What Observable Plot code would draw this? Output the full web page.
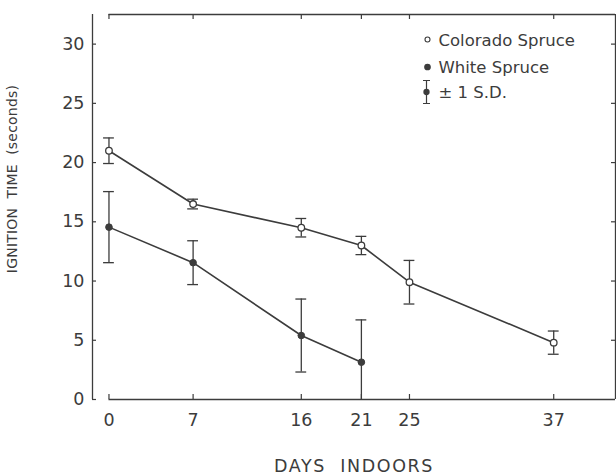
<!DOCTYPE html>
<html>
<head>
<meta charset="utf-8">
<script src="https://cdn.jsdelivr.net/npm/d3@7"></script>
<script src="https://cdn.jsdelivr.net/npm/@observablehq/plot@0.6"></script>
<style>
  html, body { margin: 0; padding: 0; background: #fff; }
  #chart { width: 616px; height: 475px; }
</style>
</head>
<body>
<div id="chart"></div>
<script>
// ---- data ----
const days = [0, 7, 16, 21, 25, 37];
const coloradoMean = [21.0, 16.5, 14.5, 13.0, 9.9, 4.8];
const coloradoSD   = [1.08, 0.41, 0.78, 0.77, 1.84, 0.98];
const whiteDays = [0, 7, 16, 21];
const whiteMean = [14.55, 11.55, 5.4, 3.15];
const whiteSD   = [3.0, 1.85, 3.08, 3.57];
const yTicks = [0, 5, 10, 15, 20, 25, 30];
const xTicks = days;
const legendLabels = ["Colorado Spruce", "White Spruce", "\u00B1 1 S.D."];
const xTitle = "DAYS  INDOORS";
const yTitle = "IGNITION  TIME  (seconds)";

// ---- tables built from the arrays ----
const colorado = days.map((d, i) => ({day: d, mean: coloradoMean[i], lo: coloradoMean[i] - coloradoSD[i], hi: coloradoMean[i] + coloradoSD[i]}));
const white = whiteDays.map((d, i) => ({day: d, mean: whiteMean[i], lo: whiteMean[i] - whiteSD[i], hi: whiteMean[i] + whiteSD[i]}));

const W = 616, H = 475;
const mL = 92, mR = 1, mT = 14, mB = 76;
const frameW = W - mL - mR, frameH = H - mT - mB;
const xDomain = [-1.37, 42.14];
const yDomain = [0, 32.5];
const ink = "#3c3c3c";
const font = "'DejaVu Sans', sans-serif";
const capHalf = 0.45; // cap half-width in days

const errSymbol = {
  draw(ctx) {
    ctx.moveTo(0, -11.5); ctx.lineTo(0, 11.5);
    ctx.moveTo(-3.5, -11.5); ctx.lineTo(3.5, -11.5);
    ctx.moveTo(-3.5, 11.5); ctx.lineTo(3.5, 11.5);
  }
};

function errorBars(data) {
  return [
    Plot.ruleX(data, {x: "day", y1: "lo", y2: "hi", stroke: ink, strokeWidth: 1.3, clip: true}),
    Plot.ruleY(data, {y: "hi", x1: d => d.day - capHalf, x2: d => d.day + capHalf, stroke: ink, strokeWidth: 1.3, clip: true}),
    Plot.ruleY(data, {y: "lo", x1: d => d.day - capHalf, x2: d => d.day + capHalf, stroke: ink, strokeWidth: 1.3, clip: true})
  ];
}

const legendText = (i, dy) => Plot.text([legendLabels[i]], {frameAnchor: "top-left", dx: 346, dy, textAnchor: "start", lineAnchor: "middle", fontSize: 16.5, fill: ink});

const chart = Plot.plot({
  width: W, height: H,
  marginLeft: mL, marginRight: mR, marginTop: mT, marginBottom: mB,
  style: {fontFamily: font, fontSize: "17.5px", color: ink, background: "#fff"},
  x: {domain: xDomain},
  y: {domain: yDomain},
  marks: [
    // frame pieces
    Plot.ruleX([xDomain[0]], {stroke: ink, strokeWidth: 1.3}),
    Plot.ruleX([xDomain[1]], {stroke: ink, strokeWidth: 1.3}),
    Plot.ruleY([yDomain[0]], {x1: days[0], x2: xDomain[1], stroke: ink, strokeWidth: 1.3}),
    Plot.ruleY([yDomain[1]], {x1: days[0], x2: xDomain[1], stroke: ink, strokeWidth: 1.3}),
    // inward ticks
    Plot.tickY(yTicks, {y: d => d, insetRight: frameW - 4, stroke: ink, strokeWidth: 1.2}),
    Plot.tickY(yTicks.filter(t => t > 0), {y: d => d, insetLeft: frameW - 4, stroke: ink, strokeWidth: 1.2}),
    Plot.tickX(xTicks, {x: d => d, insetTop: frameH - 5, stroke: ink, strokeWidth: 1.2}),
    Plot.tickX(xTicks, {x: d => d, insetBottom: frameH - 5, stroke: ink, strokeWidth: 1.2}),
    // axes labels
    Plot.axisY({ticks: yTicks, tickSize: 0, tickPadding: 8, label: null, fontSize: 17.5}),
    Plot.axisX({ticks: xTicks, tickSize: 0, tickPadding: 14, label: null, fontSize: 17.5}),
    Plot.text([xTitle], {frameAnchor: "bottom", dy: 67, textAnchor: "middle", fontSize: 17.5, fill: ink, lineAnchor: "middle"}),
    Plot.text([yTitle], {frameAnchor: "left", dx: -80, dy: -28, rotate: -90, textAnchor: "middle", fontSize: 14, fill: ink, lineAnchor: "middle"}),
    // series
    Plot.line(colorado, {x: "day", y: "mean", stroke: ink, strokeWidth: 1.6}),
    Plot.line(white, {x: "day", y: "mean", stroke: ink, strokeWidth: 1.6}),
    ...errorBars(colorado),
    ...errorBars(white),
    Plot.dot(colorado, {x: "day", y: "mean", r: 3.3, fill: "#fff", stroke: ink, strokeWidth: 1.3}),
    Plot.dot(white, {x: "day", y: "mean", r: 3.3, fill: ink, stroke: ink, strokeWidth: 1}),
    // legend
    Plot.dot([legendLabels[0]], {frameAnchor: "top-left", dx: 335, dy: 25, r: 2.5, fill: "#fff", stroke: ink, strokeWidth: 1.1}),
    Plot.dot([legendLabels[1]], {frameAnchor: "top-left", dx: 335, dy: 52.5, r: 2.6, fill: ink, stroke: ink}),
    Plot.dot([legendLabels[2]], {frameAnchor: "top-left", dx: 334, dy: 77.5, symbol: errSymbol, r: 3, fill: "none", stroke: ink, strokeWidth: 1.2}),
    Plot.dot([legendLabels[2]], {frameAnchor: "top-left", dx: 334, dy: 77.5, r: 2.4, fill: ink, stroke: ink}),
    legendText(0, 26),
    legendText(1, 53),
    legendText(2, 78)
  ]
});
// letter spacing for the axis titles (styling only)
d3.select(chart).selectAll("text").each(function () {
  const t = this.textContent;
  if (t === xTitle) this.setAttribute("letter-spacing", "1.6px");
  if (t === yTitle) this.setAttribute("letter-spacing", "0.2px");
});
document.getElementById("chart").append(chart);
</script>
</body>
</html>
